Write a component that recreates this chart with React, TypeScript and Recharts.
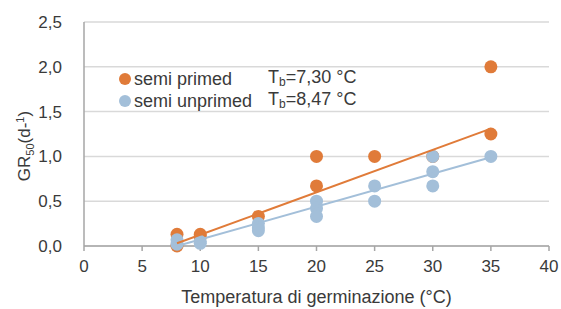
import React from 'react';
import { ScatterChart, Scatter, XAxis, YAxis, CartesianGrid } from 'recharts';

const ORANGE = '#E07B39';
const BLUE = '#A3BFD9';
const TEXT = '#3a3a3a';
const FONT = '"Liberation Sans", Arial, sans-serif';

const xTicks = [0, 5, 10, 15, 20, 25, 30, 35, 40];
const yTicks = [0, 0.5, 1, 1.5, 2, 2.5];

// semi primed: observed GR50 per temperature
const primedPoints = [
  { t: 8, gr: 0.13 },
  { t: 8, gr: 0.0 },
  { t: 10, gr: 0.13 },
  { t: 10, gr: 0.1 },
  { t: 15, gr: 0.33 },
  { t: 20, gr: 1.0 },
  { t: 20, gr: 0.67 },
  { t: 25, gr: 1.0 },
  { t: 30, gr: 1.0 },
  { t: 35, gr: 2.0 },
  { t: 35, gr: 1.25 },
];

// semi unprimed
const unprimedPoints = [
  { t: 8, gr: 0.07 },
  { t: 8, gr: 0.02 },
  { t: 10, gr: 0.05 },
  { t: 10, gr: 0.03 },
  { t: 15, gr: 0.25 },
  { t: 15, gr: 0.2 },
  { t: 15, gr: 0.17 },
  { t: 20, gr: 0.5 },
  { t: 20, gr: 0.42 },
  { t: 20, gr: 0.33 },
  { t: 25, gr: 0.67 },
  { t: 25, gr: 0.5 },
  { t: 30, gr: 1.0 },
  { t: 30, gr: 0.83 },
  { t: 30, gr: 0.67 },
  { t: 35, gr: 1.0 },
];

// linear fits (end points)
const primedTrend = [
  { t: 8, gr: 0.03 },
  { t: 35, gr: 1.31 },
];
const unprimedTrend = [
  { t: 8, gr: 0.0 },
  { t: 35, gr: 0.99 },
];

const legendRows = [
  { label: 'semi primed', tb: '7,30', color: ORANGE },
  { label: 'semi unprimed', tb: '8,47', color: BLUE },
];

const fmt = (v: number) => v.toFixed(1).replace('.', ',');

const Dot = (props: any) => {
  const { cx, cy, fill } = props;
  if (cx == null || cy == null) return <g />;
  return <circle cx={cx} cy={cy} r={6.5} fill={fill} />;
};

const NoDot = () => <g />;

const LegendBox = () => (
  <div
    style={{
      position: 'absolute',
      top: 68,
      left: 119,
      fontFamily: FONT,
      fontSize: 18,
      color: TEXT,
      lineHeight: '22px',
    }}
  >
    {legendRows.map((r) => (
      <div key={r.label} style={{ display: 'flex', alignItems: 'center', height: 22 }}>
        <span
          style={{
            width: 12,
            height: 12,
            borderRadius: 6,
            background: r.color,
            display: 'inline-block',
            marginRight: 3,
          }}
        />
        <span style={{ width: 134, display: 'inline-block' }}>{r.label}</span>
        <span>
          T<sub style={{ fontSize: 12, verticalAlign: -3 }}>b</sub>={r.tb} °C
        </span>
      </div>
    ))}
  </div>
);

const YLabel = () => (
  <text
    transform="translate(30,146) rotate(-90)"
    textAnchor="middle"
    fontFamily={FONT}
    fontSize={17}
    fill={TEXT}
  >
    <tspan>GR</tspan>
    <tspan fontSize={11} dy={4}>50</tspan>
    <tspan dy={-4}>(d-</tspan>
    <tspan fontSize={11} dy={-6}>1</tspan>
    <tspan dy={6}>)</tspan>
  </text>
);

export default function App() {
  return (
    <div style={{ position: 'absolute', left: 0, top: 0, width: 561, height: 309, background: '#fff' }}>
      <ScatterChart
        width={561}
        height={309}
        margin={{ top: 22, right: 12, bottom: 0, left: 24 }}
      >
        <CartesianGrid vertical={false} stroke="#d9d9d9" strokeWidth={1.5} />
        <XAxis
          type="number"
          dataKey="t"
          domain={[0, 40]}
          ticks={xTicks}
          height={63}
          stroke="#a6a6a6"
          strokeWidth={1.5}
          tickSize={5}
          tickMargin={9}
          tick={{ fontFamily: FONT, fontSize: 17, fill: TEXT }}
          label={{
            value: 'Temperatura di germinazione (°C)',
            position: 'insideBottom',
            offset: 6,
            style: { fontFamily: FONT, fontSize: 18, fill: TEXT },
          }}
        />
        <YAxis
          type="number"
          dataKey="gr"
          domain={[0, 2.5]}
          ticks={yTicks}
          width={60}
          stroke="#a6a6a6"
          strokeWidth={1.5}
          tickLine={false}
          tickMargin={16}
          tickFormatter={fmt}
          tick={{ fontFamily: FONT, fontSize: 17, fill: TEXT }}
          label={<YLabel />}
        />
        <Scatter name="semi primed" data={primedPoints} fill={ORANGE} shape={Dot} isAnimationActive={false} />
        <Scatter name="semi unprimed" data={unprimedPoints} fill={BLUE} shape={Dot} isAnimationActive={false} />
        <Scatter
          data={primedTrend}
          fill={ORANGE}
          line={{ stroke: ORANGE, strokeWidth: 2 }}
          shape={NoDot}
          isAnimationActive={false}
        />
        <Scatter
          data={unprimedTrend}
          fill={BLUE}
          line={{ stroke: BLUE, strokeWidth: 2 }}
          shape={NoDot}
          isAnimationActive={false}
        />
      </ScatterChart>
      <LegendBox />
    </div>
  );
}
